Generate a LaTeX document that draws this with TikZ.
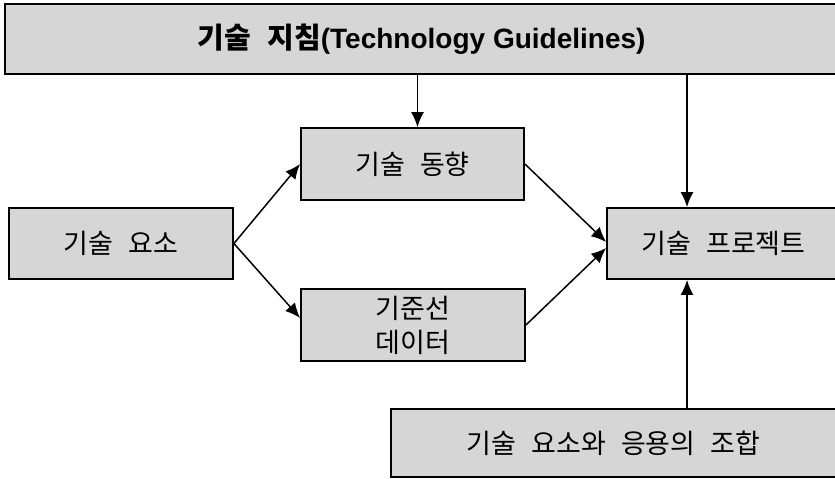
\documentclass[tikz,border=0pt]{standalone}
\usepackage{fontspec}
\usetikzlibrary{arrows.meta,positioning}
\newfontfamily\krfont[WordSpace=2.5]{Noto Sans CJK KR}
\newfontfamily\latfont{Liberation Sans}

\begin{document}
\begin{tikzpicture}
		[   x=1pt,y=-1pt,
			bnode/.style={draw=black,line width=1.8pt,fill=black!16,inner sep=0pt,align=center,
				font=\krfont\fontsize{27}{34}\selectfont},
		]
		\tikzset{normal arrow/.style={draw,line width=1.5pt,-{Latex[length=15pt,width=13pt]}}}
		\useasboundingbox (0,0) rectangle (835,479);
		
		\node[bnode,minimum width=833pt,minimum height=70pt,
			font=\krfont\bfseries\fontsize{29}{30}\selectfont] (guide) at (421.5,39)
			{기술 지침{\latfont\bfseries\fontsize{28}{30}\selectfont(Technology Guidelines)}};
		
		\node[bnode,minimum width=224pt,minimum height=71pt] (element) at (121,243.5) {기술 요소};
		
		\node[bnode,minimum width=223pt,minimum height=72pt] (trend) at (412.5,164) {기술 동향};
		\node[bnode,minimum width=224pt,minimum height=72pt] (baseline) at (413,325) {기준선\\데이터};
		
		\node[bnode,minimum width=233pt,minimum height=71pt] (project) at (723.5,243.5) {기술 프로젝트};
		
		\node[bnode,minimum width=445pt,minimum height=68pt] (combo) at (613.5,443) {기술 요소와 응용의 조합};
		
		\coordinate (t-in) at ([xshift=5pt]trend.north);
		\coordinate (p-in) at ([xshift=-36.5pt]project.north);
		\coordinate (p-out) at ([xshift=-36.5pt]project.south);
		
		\path[normal arrow] (t-in |- guide.south) -- (t-in);
		\path[normal arrow] (p-in |- guide.south) -- (p-in);
		\path[normal arrow] (p-out |- combo.north) -- (p-out);
		
		\foreach \n/\s in {trend/0,baseline/7}
		{
			\path[normal arrow] (element.east) -- ([yshift=\s pt]\n.west);
		}
		
		\foreach \n/\s in {trend/1.5,baseline/-4.5}
		{
			\path[normal arrow] (\n.east) -- ([yshift=\s pt]project.west);
		}
		\end{tikzpicture}
\end{document}
